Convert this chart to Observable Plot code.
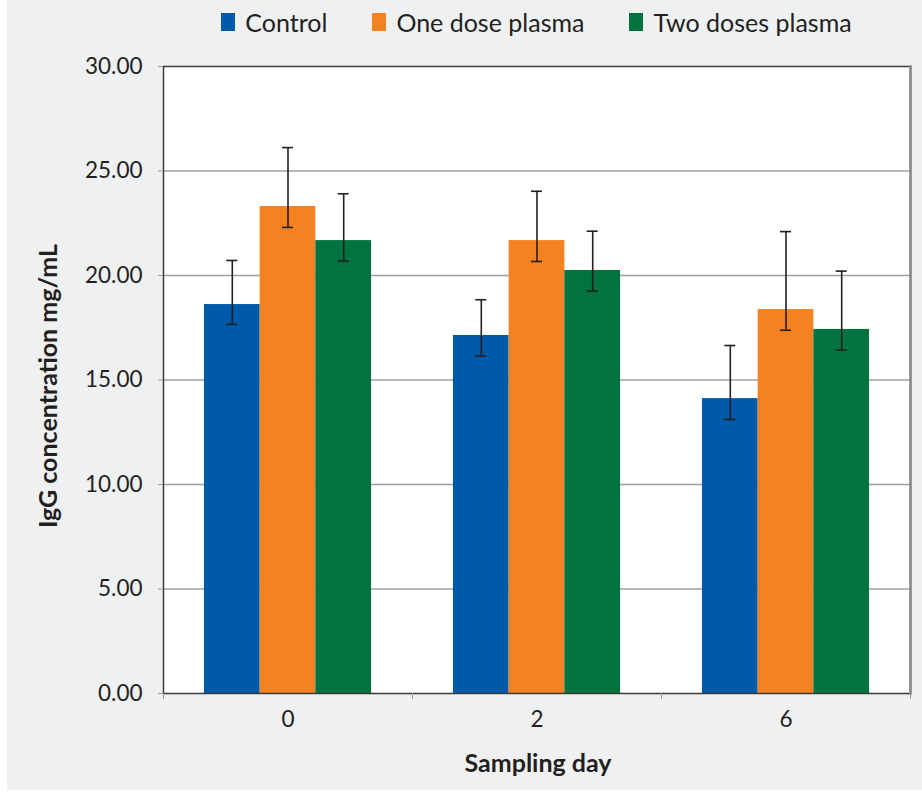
<!DOCTYPE html>
<html>
<head>
<meta charset="utf-8">
<script src="https://cdn.jsdelivr.net/npm/d3@7"></script>
<script src="https://cdn.jsdelivr.net/npm/@observablehq/plot@0.6"></script>
<style>
  html, body { margin: 0; padding: 0; background: #ffffff; }
  #panel { position: absolute; left: 7px; top: 0; width: 915px; height: 790px; background: #eff0f2; font-family: Lato, "Open Sans", sans-serif; }
  #legend { height: 42px; box-sizing: border-box; padding: 2px 12px 0 156px; display: flex; justify-content: center; gap: 45px; font-size: 25px; color: #231f20; line-height: 28px; }
  .item { display: flex; align-items: center; gap: 10px; }
  .sw { width: 14px; height: 18px; display: inline-block; }
  svg { display: block; }
</style>
</head>
<body>
<div id="panel">
  <div id="legend"></div>
  <div id="chart"></div>
</div>
<script>
const days = ["0", "2", "6"];
const seriesNames = ["Control", "One dose plasma", "Two doses plasma"];
const seriesColors = ["#005aaa", "#f48221", "#00733e"];
const controlMean = [18.61, 17.13, 14.11];
const oneDoseMean = [23.30, 21.67, 18.37];
const twoDoseMean = [21.67, 20.24, 17.42];
const controlLow = [17.66, 16.14, 13.11];
const oneDoseLow = [22.30, 20.67, 17.38];
const twoDoseLow = [20.69, 19.25, 16.43];
const controlHigh = [20.72, 18.84, 16.65];
const oneDoseHigh = [26.12, 24.03, 22.10];
const twoDoseHigh = [23.91, 22.12, 20.21];
const yTicks = [0, 5, 10, 15, 20, 25, 30];
const yLabel = "IgG concentration mg/mL";
const xLabel = "Sampling day";

const means = [controlMean, oneDoseMean, twoDoseMean];
const lows = [controlLow, oneDoseLow, twoDoseLow];
const highs = [controlHigh, oneDoseHigh, twoDoseHigh];

const rows = [];
seriesNames.forEach((s, i) => days.forEach((d, j) => rows.push({series: s, day: d, value: means[i][j], lo: lows[i][j], hi: highs[i][j]})));

// legend
const legend = document.getElementById("legend");
seriesNames.forEach((s, i) => {
  const it = document.createElement("div"); it.className = "item";
  const sw = document.createElement("span"); sw.className = "sw"; sw.style.background = seriesColors[i];
  const tx = document.createElement("span"); tx.textContent = s;
  it.appendChild(sw); it.appendChild(tx); legend.appendChild(it);
});

const W = 915, H = 748, mL = 156, mR = 12, mT = 24, mB = 97;
const bw = (W - mL - mR) / days.length;
const barW = 55.7;
const g = (bw - 3 * barW) / 2;
const capW = 11;
const ink = "#231f20";

const marks = [Plot.frame({fill: "white", stroke: null}),
  Plot.gridY({ticks: yTicks.slice(1, -1), stroke: "#a0a0a0", strokeOpacity: 1, strokeWidth: 1.5})];
seriesNames.forEach((s, i) => {
  const data = rows.filter(r => r.series === s);
  const iL = g + i * barW, iR = bw - iL - barW;
  const off = iL + barW / 2 - bw / 2;
  const cL = iL + barW / 2 - capW / 2, cR = bw - cL - capW;
  marks.push(Plot.barY(data, {x: "day", y: "value", fill: "series", insetLeft: iL, insetRight: iR}));
  marks.push(Plot.ruleX(data, {x: "day", y1: "lo", y2: "hi", dx: off, stroke: ink, strokeWidth: 1.6}));
  marks.push(Plot.tickY(data, {x: "day", y: "lo", insetLeft: cL, insetRight: cR, stroke: ink, strokeWidth: 1.6}));
  marks.push(Plot.tickY(data, {x: "day", y: "hi", insetLeft: cL, insetRight: cR, stroke: ink, strokeWidth: 1.6}));
});
marks.push(
  Plot.frame({stroke: "#3a3a3a", strokeWidth: 1.5}),
  Plot.frame({anchor: "right", stroke: "#8a8a8a", strokeWidth: 2.5}),
  Plot.axisY({ticks: yTicks, tickFormat: d3.format(".2f"), tickSize: 5, tickPadding: 16, stroke: "#999", fill: ink, fontSize: 22.5, label: null}),
  Plot.axisX({tickSize: 0, tickPadding: 18, fill: ink, fontSize: 22.5, label: null}),
  Plot.axisX({tickSize: 6, dx: -bw / 2, tickFormat: () => "", stroke: "#999", label: null}),
  Plot.axisX({tickSize: 6, dx: bw / 2, tickFormat: () => "", stroke: "#999", label: null}),
  Plot.text([yLabel], {text: d => d, frameAnchor: "left", textAnchor: "middle", lineAnchor: "middle", dx: -115, dy: 6, rotate: -90, fontSize: 25, fontWeight: "bold", fill: ink}),
  Plot.text([xLabel], {text: d => d, frameAnchor: "bottom", textAnchor: "middle", lineAnchor: "middle", dx: 1, dy: 70, fontSize: 25, fontWeight: "bold", fill: ink})
);

const chart = Plot.plot({
  width: W, height: H,
  marginLeft: mL, marginRight: mR, marginTop: mT, marginBottom: mB,
  style: {background: "transparent", fontFamily: "Lato, 'Open Sans', sans-serif"},
  x: {type: "band", domain: days, padding: 0},
  y: {domain: [0, 30]},
  color: {domain: seriesNames, range: seriesColors},
  marks
});
document.getElementById("chart").appendChild(chart);
</script>
</body>
</html>
